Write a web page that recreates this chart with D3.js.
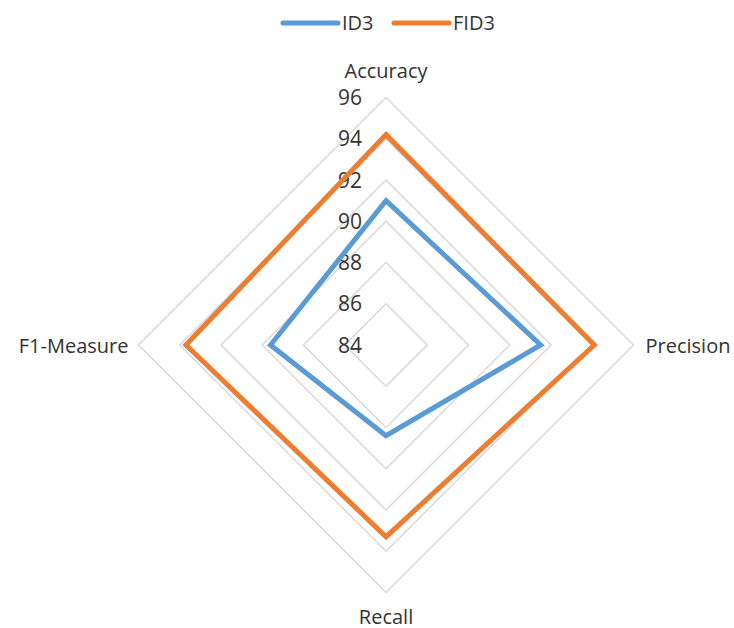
<!DOCTYPE html>
<html>
<head>
<meta charset="utf-8">
<script src="https://cdn.jsdelivr.net/npm/d3@7"></script>
<style>
    body { margin: 0; background: #fff; }
    #chart { width: 734px; height: 628px; }
    text { font-family: "Open Sans", "Noto Sans", sans-serif; fill: #333; }
</style>
</head>
<body>
<div id="chart"></div>
<script>
const axesNames = ["Accuracy", "Precision", "Recall", "F1-Measure"];
const seriesNames = ["ID3", "FID3"];
const id3Values = [91.0, 91.5, 88.4, 89.6];
const fid3Values = [94.2, 94.1, 93.3, 93.7];
const ticks = [84, 86, 88, 90, 92, 94, 96];

/*
SVG SETUP
*/
const width = 734;
const height = 628;
const cx = 386, cy = 345;
const radius = 247.5;

const svg = d3.select("#chart")
    .append("svg")
    .attr("width", width)
    .attr("height", height);

/*
SCALES
*/
const rScale = d3.scaleLinear()
    .domain([84, 96])
    .range([0, radius]);

const angleScale = d3.scaleLinear()
    .domain([0, axesNames.length])
    .range([0, 2 * Math.PI]);

const colorScale = d3.scaleOrdinal()
    .domain(seriesNames)
    .range(["#5B9BD5", "#ED7D31"]);

const g = svg.append("g")
    .attr("transform", `translate(${cx},${cy})`);

/*
GRID RINGS
*/
const ringLine = d3.lineRadial()
    .angle(function(d, i) { return angleScale(i); })
    .radius(function(d) { return rScale(d); })
    .curve(d3.curveLinearClosed);

ticks.filter(function(t) { return t > 84; }).forEach(function(t) {
    g.append("path")
        .attr("d", ringLine(axesNames.map(function() { return t; })))
        .attr("fill", "none")
        .attr("stroke", "#d9d9d9")
        .attr("stroke-width", 1.5);
});

/*
TICK LABELS
*/
g.selectAll(".tick-label")
    .data(ticks)
    .enter()
    .append("text")
        .attr("class", "tick-label")
        .attr("x", -24)
        .attr("y", function(d) { return -rScale(d); })
        .attr("dy", "0.36em")
        .attr("text-anchor", "end")
        .attr("font-size", 21)
        .text(function(d) { return d; });

/*
SERIES
*/
const series = [
    {name: "ID3", values: id3Values},
    {name: "FID3", values: fid3Values}
];

g.selectAll(".series")
    .data(series)
    .enter()
    .append("path")
        .attr("class", "series")
        .attr("d", function(d) { return ringLine(d.values); })
        .attr("fill", "none")
        .attr("stroke", function(d) { return colorScale(d.name); })
        .attr("stroke-width", 5)
        .attr("stroke-linejoin", "miter");

/*
AXIS LABELS
*/
const labelPos = [
    {x: 0, y: -radius - 20, anchor: "middle"},
    {x: radius + 12, y: 8, anchor: "start"},
    {x: 0, y: radius + 31, anchor: "middle"},
    {x: -radius - 10, y: 8, anchor: "end"}
];

axesNames.forEach(function(name, i) {
    g.append("text")
        .attr("x", labelPos[i].x)
        .attr("y", labelPos[i].y)
        .attr("text-anchor", labelPos[i].anchor)
        .attr("font-size", 20)
        .text(name);
});

/*
LEGEND
*/
const legend = svg.append("g")
    .attr("transform", "translate(283,23)");

const legendX = [0, 111];

seriesNames.forEach(function(name, i) {
    legend.append("line")
        .attr("x1", legendX[i])
        .attr("x2", legendX[i] + 55)
        .attr("y1", 0)
        .attr("y2", 0)
        .attr("stroke", colorScale(name))
        .attr("stroke-width", 5)
        .attr("stroke-linecap", "round");

    legend.append("text")
        .attr("x", legendX[i] + 59)
        .attr("y", 0)
        .attr("dy", "0.35em")
        .attr("font-size", 20)
        .text(name);
});
</script>
</body>
</html>
